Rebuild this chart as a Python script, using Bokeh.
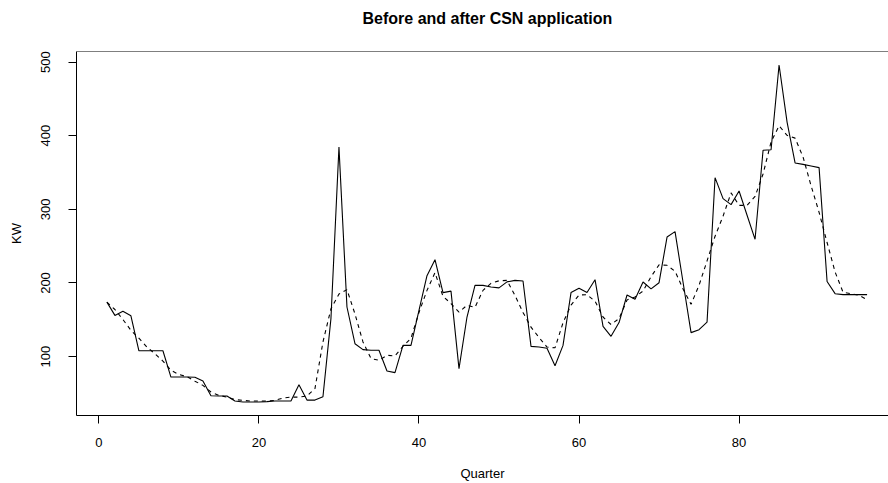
from bokeh.plotting import figure
from bokeh.models import Range1d, FixedTicker, LinearAxis, Title, Span
from bokeh.embed import file_html
from bokeh.resources import INLINE

quarter = list(range(1, 97))

before = [174, 156, 161.5, 155.5, 108, 108, 108, 108, 72.3, 72.3,
          72.3, 72, 67, 47, 46.5, 46.5, 39.7, 38.4, 38.4, 38.4,
          39, 39.7, 39.7, 39.7, 62, 41, 41, 45.5, 152, 384.5,
          167.4, 117.6, 109.5, 108.6, 108.6, 80.5, 78.3, 115.3, 115.3, 162.9,
          210, 231.7, 186.9, 189, 83.7, 153.8, 196.8, 196.8, 194.5, 193.4,
          201.5, 203.6, 202.7, 114, 113, 111.5, 87.7, 115.3, 187, 193,
          187, 204.5, 141, 127.6, 146.3, 183.7, 177.8, 201.3, 192, 200.4,
          262.4, 269.7, 201, 132.6, 136.6, 147, 343, 314.5, 306.4, 324.9,
          292, 259.3, 380.2, 381, 496, 418.5, 363, 361, 358.8, 356.6,
          202, 185.5, 184.2, 184.2, 184.2, 184.2]

after = [174, 164, 150.5, 135.7, 125, 113, 104, 94, 81.4, 75.7,
         72.8, 66.7, 61, 52, 47.4, 45.1, 41.6, 40.7, 39.7, 39.7,
         39.7, 40.7, 43.8, 45.1, 45.1, 46.5, 56.6, 120, 165, 185,
         191, 158, 120, 97.5, 95, 101.8, 101, 114, 125, 160,
         190, 214, 182, 172, 160.6, 169.7, 167, 190, 199.5, 203,
         203.6, 183, 160, 140, 126, 113, 112, 146, 170, 183.7,
         184, 175.3, 153.8, 143.6, 151.6, 177, 181, 189, 208.5, 224.6,
         224, 216, 192, 171, 197, 230, 263.5, 290.7, 322.4, 305.4,
         305.4, 317.5, 348, 391.4, 413.4, 400.5, 396.7, 371, 332, 296,
         255, 215, 187.3, 185.5, 183.2, 177.4]

x_ticks = [0, 20, 40, 60, 80]
y_ticks = [100, 200, 300, 400, 500]

FONT = "Liberation Sans"

W, H = 888, 483
LEFT, TOP, BOTTOM = 76, 51, 68
frame_w = W - LEFT

# R-style 4% range extension
x_pad = 0.04 * (max(quarter) - min(quarter))
x_start = min(quarter) - x_pad
x_end_r = max(quarter) + x_pad
# the reference crops the right part of the plot region (R region is 821px wide)
x_end = x_start + (x_end_r - x_start) * frame_w / 821

y_all = before + after
y_pad = 0.04 * (max(y_all) - min(y_all))
y_start = min(y_all) - y_pad
y_end = max(y_all) + y_pad

p = figure(width=W, height=H, output_backend="svg", toolbar_location=None,
           x_range=Range1d(x_start, x_end), y_range=Range1d(y_start, y_end),
           min_border_left=LEFT, min_border_right=0, min_border_top=TOP,
           min_border_bottom=BOTTOM, x_axis_label="Quarter", y_axis_label="KW")

p.background_fill_color = "white"
p.border_fill_color = "white"
p.outline_line_color = None
p.grid.visible = False

p.line(quarter, before, line_color="black", line_width=1.1)
p.line(quarter, after, line_color="black", line_width=1.1, line_dash="4 4")

for ax in (p.xaxis[0], p.yaxis[0]):
    ax.axis_line_color = "black"
    ax.axis_line_width = 1
    ax.major_tick_line_color = "black"
    ax.major_tick_in = 0
    ax.major_tick_out = 8
    ax.minor_tick_line_color = None
    ax.major_label_text_font = FONT
    ax.major_label_text_font_size = "13px"
    ax.major_label_text_color = "black"
    ax.axis_label_text_font = FONT
    ax.axis_label_text_font_size = "13px"
    ax.axis_label_text_font_style = "normal"
    ax.axis_label_text_color = "black"

p.xaxis[0].ticker = FixedTicker(ticks=x_ticks)
p.yaxis[0].ticker = FixedTicker(ticks=y_ticks)
p.xaxis[0].major_label_standoff = 14
p.xaxis[0].axis_label_standoff = 16
p.yaxis[0].major_label_orientation = "vertical"
p.yaxis[0].major_label_standoff = 18
p.yaxis[0].axis_label_standoff = 15

# top edge of the box (right edge falls outside the picture, as in the reference)
p.add_layout(Span(location=y_end, dimension="width", line_color="black", line_width=1))

# empty spacer strip above the box, so the title sits higher
spacer = LinearAxis(ticker=FixedTicker(ticks=x_ticks), major_tick_out=20, major_tick_in=0,
                    minor_tick_out=0, minor_tick_in=0, major_label_standoff=0,
                    major_label_overrides={t: "" for t in x_ticks},
                    major_tick_line_color="white", minor_tick_line_color=None,
                    axis_line_color=None)
p.add_layout(spacer, "above")

title = Title(text="Before and after CSN application", align="left", offset=286,
              text_font=FONT, text_font_size="16px", text_font_style="bold",
              text_color="black", standoff=10)
p.add_layout(title, "above")

open("out.html", "w").write(file_html(p, INLINE))
